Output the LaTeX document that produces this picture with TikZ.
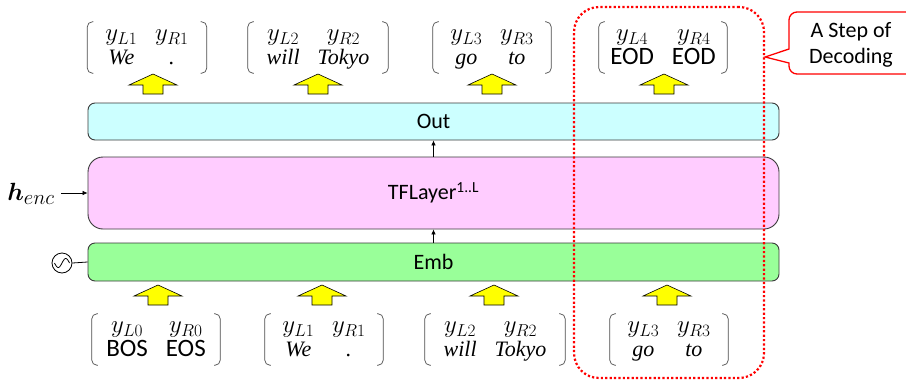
\documentclass[tikz,border=0pt]{standalone}
\usepackage[no-math]{fontspec}
\setmainfont{Carlito}
\newfontfamily\tms{Liberation Serif}
\usepackage{bm}
\usetikzlibrary{arrows.meta}

\definecolor{outfill}{HTML}{CCFFFF}
\definecolor{tffill}{HTML}{FFCCFF}
\definecolor{embfill}{HTML}{99FF99}
\definecolor{edgegray}{HTML}{3A3A3A}
\definecolor{tokyellow}{HTML}{FFFF00}

% italic word inside a token pair
\newcommand\itw[1]{{\tms\itshape\fontsize{22}{24}\selectfont #1}}
% upright special token inside a token pair
\newcommand\spw[1]{{\fontsize{25}{24}\selectfont #1}}
% one (left, right) token pair, set as two rows
\newcommand\pair[4]{\begin{tabular}{@{}c@{\hspace{18pt}}c@{}}$y_{L#1}$ & $y_{R#2}$\\ #3 & #4\end{tabular}}

\begin{document}
\begin{tikzpicture}[x=1pt,y=-1pt,
  layer/.style={draw=edgegray, line width=0.9pt, minimum width=691pt, inner sep=0pt,
    font=\fontsize{22}{26}\selectfont},
  grp/.style={inner sep=0pt, minimum height=51pt, font=\fontsize{25}{24}\selectfont},
  brk/.style={draw=black!70, line width=0.7pt, rounded corners=5pt},
  thin/.style={draw=black, line width=0.6pt, -{Latex[length=5pt,width=4.5pt]}},
  stepbox/.style={draw=red, line width=2.2pt, dash pattern=on 2.2pt off 2.2pt,
    rounded corners=25pt, minimum width=190pt, minimum height=371pt, inner sep=0pt},
  callout/.style={draw=red, line width=1.3pt, fill=white},
  uparrow/.pic={\draw[fill=tokyellow, draw=black, line width=0.6pt, line join=miter]
    (-10,0) -- (-10,-9) -- (-24,-9) -- (0,-20) -- (24,-9) -- (10,-9) -- (10,0) -- cycle;}
]
\useasboundingbox (0,0) rectangle (906,381);

% decoder layers
\node[layer, fill=outfill, minimum height=37pt, rounded corners=7pt] (out) at (433.5,121.5) {Out};
\node[layer, fill=tffill, minimum height=72pt, rounded corners=15pt] (tf) at (433.5,193) {TFLayer\textsuperscript{1..L}};
\node[layer, fill=embfill, minimum height=38pt, rounded corners=7pt] (emb) at (433.5,262) {Emb};

\draw[thin] (emb.north) -- (tf.south);
\draw[thin] (tf.north) -- (out.south);

% encoder states
\node[font=\fontsize{30}{32}\selectfont, inner sep=0pt] (henc) at (31,194) {$\bm{h}_{enc}$};
\coordinate (hsrc) at (61,193);
\draw[thin] (hsrc) -- (tf.west);

% positional signal
\node[circle, draw=black, line width=0.8pt, minimum size=20pt, inner sep=0pt] (osc) at (62,263) {};
\draw[line width=0.8pt] (osc.east) -- (emb.west);
\draw[line width=0.8pt, domain=-7.5:7.5, samples=40, smooth] plot ({62+\x}, {263-4.5*sin(\x*180/7.5)});

% output token pairs
\node[grp, minimum width=119pt] (o1) at (147,47.5) {\pair{1}{1}{\itw{We}}{\itw{.}}};
\node[grp, minimum width=140pt] (o2) at (318,47.5) {\pair{2}{2}{\itw{will}}{\itw{Tokyo}}};
\node[grp, minimum width=118pt] (o3) at (492,47.5) {\pair{3}{3}{\itw{go}}{\itw{to}}};
\node[grp, minimum width=128pt] (o4) at (663,47.5) {\pair{4}{4}{\spw{EOD}}{\spw{EOD}}};

% input token pairs
\node[grp, minimum width=128pt] (i1) at (156,339.5) {\pair{0}{0}{\spw{BOS}}{\spw{EOS}}};
\node[grp, minimum width=118pt] (i2) at (324,339.5) {\pair{1}{1}{\itw{We}}{\itw{.}}};
\node[grp, minimum width=140pt] (i3) at (495,339.5) {\pair{2}{2}{\itw{will}}{\itw{Tokyo}}};
\node[grp, minimum width=118pt] (i4) at (669,339.5) {\pair{3}{3}{\itw{go}}{\itw{to}}};

% parentheses around every pair
\foreach \n in {o1,o2,o3,o4,i1,i2,i3,i4}{
  \draw[brk] ([xshift=6pt]\n.north west) -- (\n.north west) -- (\n.south west) -- ([xshift=6pt]\n.south west);
  \draw[brk] ([xshift=-6pt]\n.north east) -- (\n.north east) -- (\n.south east) -- ([xshift=-6pt]\n.south east);
}

% block arrows
\foreach \x in {153,318,492,664} \pic at (\x,94) {uparrow};
\foreach \x in {158,322,494,667} \pic at (\x,305) {uparrow};

% one decoding step
\node[stepbox] (step) at (669,192.5) {};
\coordinate (tip) at (step.east |- 0,57);
\draw[callout] (tip) -- (789,49) [rounded corners=8pt] -- (789,12) -- (914,12) -- (914,74) -- (789,74) [sharp corners] -- (789,63) -- cycle;
\node[font=\fontsize{22}{26}\selectfont, align=center] (note) at (851,45) {A Step of\\Decoding};
\end{tikzpicture}
\end{document}
